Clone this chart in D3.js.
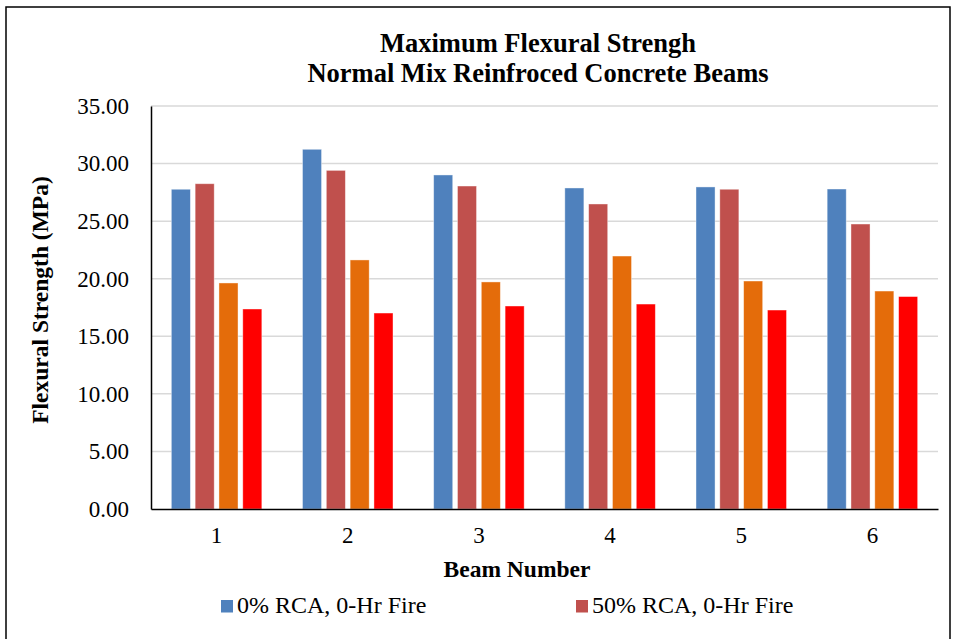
<!DOCTYPE html>
<html><head><meta charset="utf-8">
<script src="https://cdn.jsdelivr.net/npm/d3@7"></script>
<style>body{margin:0;background:#fff;}svg{display:block;}text{font-family:"Liberation Serif","Times New Roman",serif;}</style>
</head><body><svg id="c" width="956" height="639"></svg>
<script>
const beams = ["1","2","3","4","5","6"];
const seriesNames = ["0% RCA, 0-Hr Fire","50% RCA, 0-Hr Fire","0% RCA, Fire","50% RCA, Fire"];
const s0 = [27.77, 31.24, 29.01, 27.88, 27.97, 27.79];
const s1 = [28.25, 29.41, 28.05, 26.49, 27.77, 24.75];
const s2 = [19.63, 21.63, 19.72, 21.97, 19.80, 18.93];
const s3 = [17.37, 17.02, 17.63, 17.80, 17.28, 18.45];
const yTicks = [0,5,10,15,20,25,30,35];
const colors = ["#4f81bd","#c0504d","#e46c0a","#ff0000"];
const legendShown = [0,1];

const svg = d3.select("#c");
const pL = 151, pR = 938, pT = 106, pB = 509;

svg.append("rect").attr("x",6).attr("y",7).attr("width",944).attr("height",650)
  .attr("fill","#fff").attr("stroke","#000").attr("stroke-width",1.5);

const x0 = d3.scaleBand().domain(beams).range([pL,pR]).paddingInner(0.31).paddingOuter(0.155);
const x1 = d3.scaleBand().domain(d3.range(4)).range([0,x0.bandwidth()]).paddingInner(0.2);
const y = d3.scaleLinear().domain([0,35]).range([pB,pT]);

svg.append("g").selectAll("line").data(yTicks.filter(d=>d>0)).join("line")
  .attr("x1",pL).attr("x2",pR).attr("y1",d=>y(d)).attr("y2",d=>y(d))
  .attr("stroke","#d9d9d9").attr("stroke-width",1.5);

const yAxis = d3.axisLeft(y).tickValues(yTicks).tickFormat(d3.format(".2f")).tickSize(0).tickPadding(22);
const ga = svg.append("g").attr("transform",`translate(${pL},0)`).call(yAxis);
ga.select(".domain").attr("stroke","#000").attr("stroke-width",1.5);
ga.selectAll("text").attr("font-size",23).attr("fill","#000").style("font-family","Liberation Serif");

const series = [s0,s1,s2,s3];
const g = svg.append("g");
series.forEach((s,i)=>{
  g.selectAll(null).data(s).join("rect")
    .attr("x",(d,j)=>x0(beams[j])+x1(i)).attr("width",x1.bandwidth())
    .attr("y",d=>y(d)).attr("height",d=>y(0)-y(d))
    .attr("fill",colors[i]).attr("stroke","#fff").attr("stroke-opacity",0.5).attr("stroke-width",0.8);
});

const xAxis = d3.axisBottom(x0).tickSize(0).tickPadding(18);
const gx = svg.append("g").attr("transform",`translate(0,${pB})`).call(xAxis);
gx.select(".domain").attr("stroke","#000").attr("stroke-width",1.5);
gx.selectAll("text").attr("font-size",23).attr("fill","#000").style("font-family","Liberation Serif");

svg.append("text").attr("x",538).attr("y",52).attr("text-anchor","middle")
  .attr("font-size",26.5).attr("font-weight","bold").text("Maximum Flexural Strengh");
svg.append("text").attr("x",538).attr("y",82).attr("text-anchor","middle")
  .attr("font-size",26.5).attr("font-weight","bold").text("Normal Mix Reinfroced Concrete Beams");

svg.append("text").attr("transform","translate(48,300) rotate(-90)").attr("text-anchor","middle")
  .attr("font-size",23.5).attr("font-weight","bold").text("Flexural Strength (MPa)");
svg.append("text").attr("x",517).attr("y",577).attr("text-anchor","middle")
  .attr("font-size",23.5).attr("font-weight","bold").text("Beam Number");

const legX = [221,576];
legendShown.forEach((k,i)=>{
  svg.append("rect").attr("x",legX[i]).attr("y",600).attr("width",12).attr("height",12.5).attr("fill",colors[k]);
  svg.append("text").attr("x",legX[i]+16).attr("y",613).attr("font-size",24).text(seriesNames[k]);
});
</script></body></html>
